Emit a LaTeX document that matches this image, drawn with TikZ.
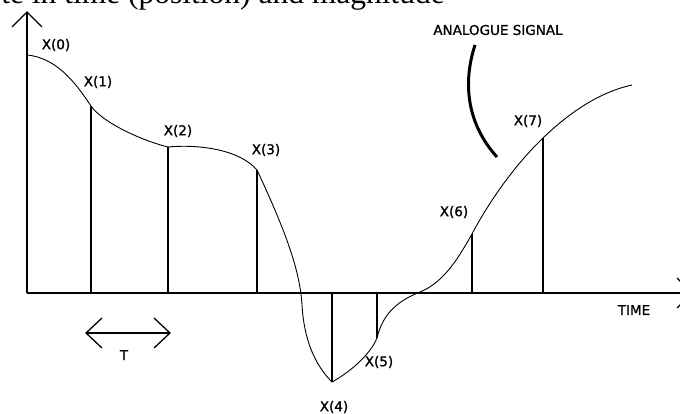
\documentclass[tikz,border=0pt]{standalone}
\usepackage{fontspec}
\setmainfont{DejaVu Sans}
\newfontfamily\labelfont[FakeBold=1.2]{DejaVu Sans}
\newfontfamily\titlefont{Liberation Serif}
\begin{document}
\begin{tikzpicture}[x=1pt,y=-1pt,
  axisline/.style={line width=2pt},
  stem/.style={line width=2pt},
  signal/.style={line width=0.9pt},
  pointer/.style={line width=3pt},
  openhead/.style={line width=1.3pt},
  lbl/.style={inner sep=0pt,font=\labelfont\fontsize{13.5}{15}\selectfont}]
\useasboundingbox (0,0) rectangle (680,414);
\clip (0,0) rectangle (680,414);
% cropped title
\node[anchor=base east,inner sep=0pt,font=\titlefont\fontsize{31.5}{34}\selectfont] (title) at (445,4) {te in time (position) and magnitude};
% axes
\coordinate (O) at (27,293);
\coordinate (ytip) at (27,12);
\coordinate (xtip) at (692,293);
\draw[axisline] (O) -- (ytip);
\draw[openhead] (12,27) -- (ytip) -- (42,27);
\draw[axisline] (O) -- (xtip);
\draw[openhead] (677,278) -- (xtip) -- (677,308);
% sample points
\coordinate (s0) at (27,55);
\coordinate (s1) at (91,106);
\coordinate (s2) at (168,147);
\coordinate (s3) at (257,170);
\coordinate (s4) at (332,382);
\coordinate (s5) at (377,338);
\coordinate (s6) at (472,234);
\coordinate (s7) at (543,138);
\coordinate (e) at (632,85);
\foreach \i in {1,2,3,4,5,6,7} {\draw[stem] (s\i) -- (s\i |- O);}
% analogue signal
\draw[signal] (s0) .. controls (60,58) and (80,90) .. (s1)
  .. controls (102,122) and (140,140) .. (s2)
  .. controls (200,144) and (240,150) .. (s3)
  .. controls (285,230) and (300,270) .. (302,305)
  .. controls (304,340) and (315,365) .. (s4)
  .. controls (350,372) and (370,355) .. (s5)
  .. controls (383,312) and (400,300) .. (420,292)
  .. controls (445,282) and (460,255) .. (s6)
  .. controls (490,200) and (515,165) .. (s7)
  .. controls (570,112) and (600,92) .. (e);
% pointer
\node[lbl] (ana) at (498,30) {ANALOGUE SIGNAL};
\draw[pointer] (475,45) .. controls (462,85) and (468,125) .. (497,157);
% labels
\node[lbl] (l0) at (56,45) {X(0)};
\node[lbl] (l1) at (98,82) {X(1)};
\node[lbl] (l2) at (178,131) {X(2)};
\node[lbl] (l3) at (266,150) {X(3)};
\node[lbl] (l4) at (334,407) {X(4)};
\node[lbl] (l5) at (379,362) {X(5)};
\node[lbl] (l6) at (454,212) {X(6)};
\node[lbl] (l7) at (528,121) {X(7)};
\node[lbl] (time) at (634,310) {TIME};
% period T
\coordinate (ta) at (86,333);
\coordinate (tb) at (170,333);
\draw[openhead] (ta) -- (tb);
\draw[openhead] (102,318) -- (ta) -- (102,348);
\draw[openhead] (154,318) -- (tb) -- (154,348);
\node[lbl] (T) at (124,355) {T};
\end{tikzpicture}
\end{document}
